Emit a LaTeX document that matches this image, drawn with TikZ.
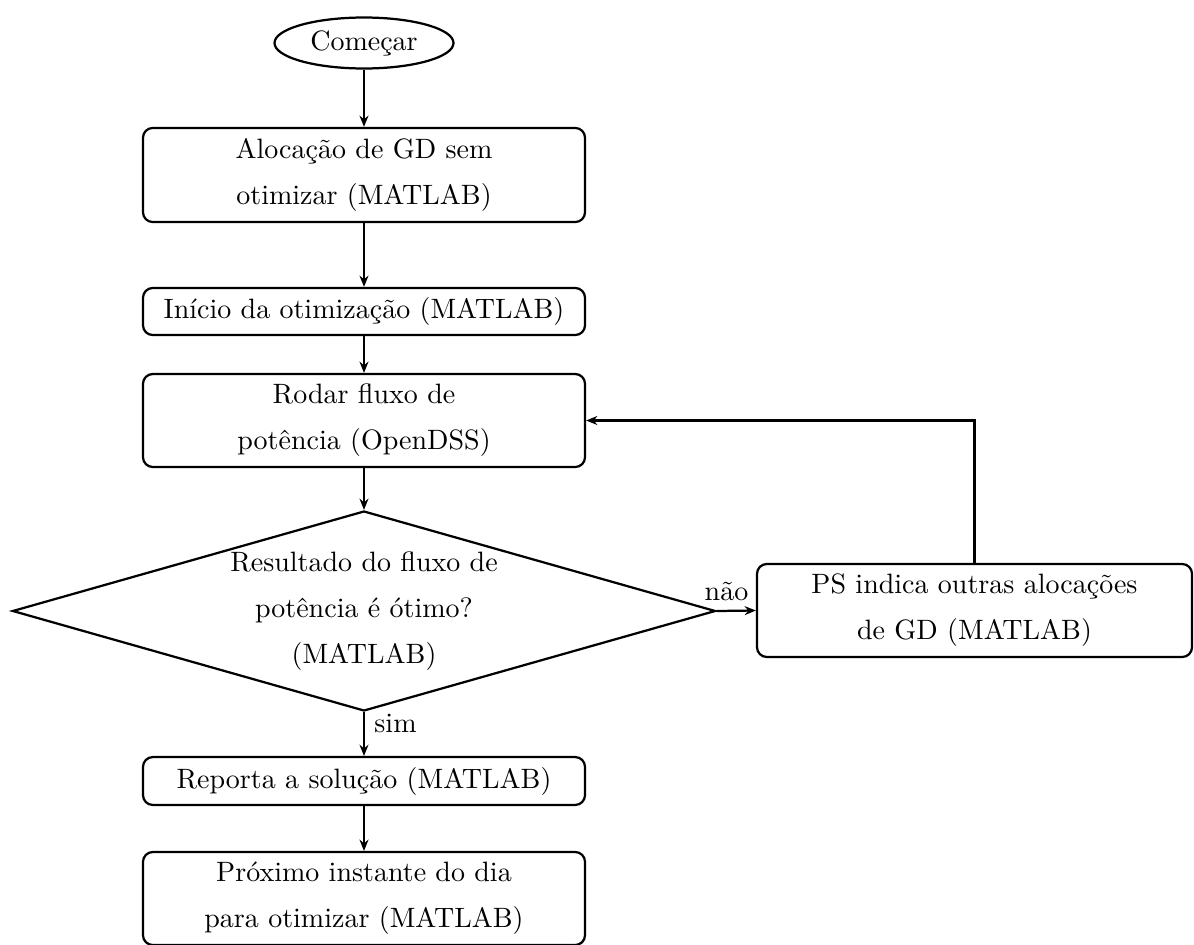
\documentclass[tikz,border=0pt]{standalone}
\usepackage{fontspec}
\usetikzlibrary{shapes.geometric,arrows.meta}
\begin{document}
\begin{tikzpicture}[x=0.357pt,y=-0.357pt,
  every node/.style={font=\fontsize{10}{16.4}\selectfont},
  proc/.style={draw, thick, rounded corners=3.5pt, align=center, minimum width=157.8pt, inner sep=0pt},
  startstop/.style={draw, thick, ellipse, minimum width=63.9pt, minimum height=18.2pt, inner sep=0pt},
  decision/.style={draw, thick, diamond, aspect=3.5, minimum width=251pt, minimum height=71.4pt, inner sep=0pt, align=center},
  flow/.style={thick, -{Stealth[length=4pt,width=3.2pt]}},
  lbl/.style={inner sep=3.33pt}
]
\useasboundingbox (0,0) rectangle (1194,945);
\node[startstop] (start) at (364,43) {Começar};
\node[proc, minimum height=33.6pt] (alloc) at (364,175) {Alocação de GD sem\\otimizar (MATLAB)};
\node[proc, minimum height=16.8pt] (inicio) at (364,311.5) {Início da otimização (MATLAB)};
\node[proc, minimum height=33.2pt] (rodar) at (364,420.5) {Rodar fluxo de\\potência (OpenDSS)};
\node[decision] (dec) at (364,611) {Resultado do fluxo de\\potência é ótimo?\\(MATLAB)};
\node[proc, minimum width=155.3pt, minimum height=33.2pt] (ps) at (974.5,610.5) {PS indica outras alocações\\de GD (MATLAB)};
\node[proc, minimum height=17.1pt] (reporta) at (364,781) {Reporta a solução (MATLAB)};
\node[proc, minimum height=33.2pt] (proximo) at (364,898.5) {Próximo instante do dia\\para otimizar (MATLAB)};

\draw[flow] (start) -- (alloc);
\draw[flow] (alloc) -- (inicio);
\draw[flow] (inicio) -- (rodar);
\draw[flow] (rodar) -- (dec);
\draw[flow] (dec.east) -- node[lbl, above, pos=0.25] {não} (ps.west);
\draw[flow] (ps.north) |- (rodar.east);
\draw[flow] (dec.south) -- node[lbl, right, pos=0.26] {sim} (reporta.north);
\draw[flow] (reporta) -- (proximo);
\end{tikzpicture}
\end{document}
